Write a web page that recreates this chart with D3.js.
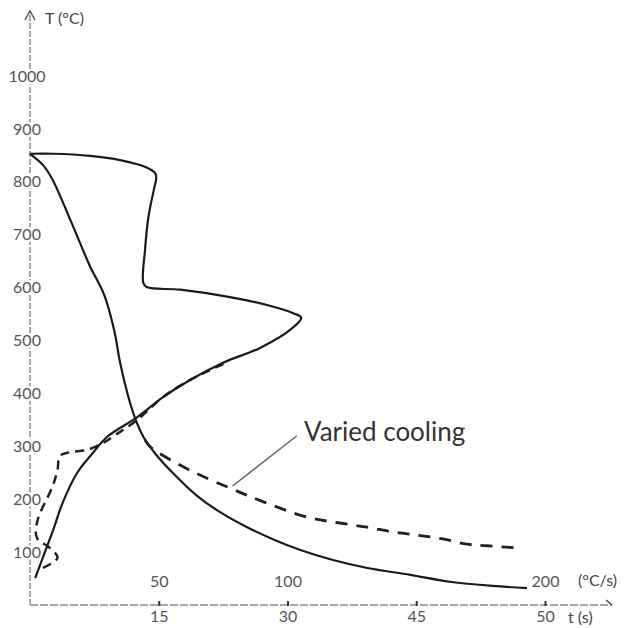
<!DOCTYPE html>
<html>
<head>
<meta charset="utf-8">
<script src="https://cdn.jsdelivr.net/npm/d3@7"></script>
<style>
  body { margin: 0; background: #fff; }
  svg { display: block; font-family: Lato, "Open Sans", sans-serif; }
</style>
</head>
<body>
<script>
// axis ticks
var yTicks = [100, 200, 300, 400, 500, 600, 700, 800, 900, 1000];
var tTickPos = [15, 30, 45, 60];
var tTickLabels = ['15', '30', '45', '50'];
var rateTickPos = [15, 30, 60];
var rateTickLabels = ['50', '100', '200'];

// fast cooling, T over t
var fastT = [0, 1.5, 2.6, 4.7, 7.0, 8.6, 9.8, 10.5, 11.4, 12.2, 13.2, 14.6, 16.5, 19.5, 22.1, 25.3, 28.5, 31.5, 35.3, 39.3, 44.3, 48.9, 53.9, 57.9];
var fastTemp = [853, 832, 805, 728, 640, 588, 520, 458, 397, 355, 318, 286, 252, 206, 176, 147, 123, 104, 85, 70, 57, 44, 36, 32];

// cooling rate curve (x in axis position units)
var rateX = [0, 2.7, 7.0, 10.5, 13.6, 14.6, 14.7, 14.5, 13.8, 13.4, 13.2, 13.6, 17.5, 23.3, 27.6, 30.6, 31.6, 30.3, 26.8, 22.5, 18.6, 15.5, 12.5, 9.0, 7.3, 5.5, 3.8, 2.7, 0.6];
var rateTemp = [853, 853, 849, 841, 827, 816, 805, 790, 734, 671, 609, 601, 596, 582, 567, 552, 543, 520, 486, 458, 425, 393, 355, 318, 287, 250, 193, 142, 51];

// varied cooling rate curve
var variedRateX = [1.5, 3.2, 2.3, 0.8, 0.9, 2.6, 3.2, 3.5, 4.7, 6.6, 8.5, 10.1, 12.5, 15.5, 18.6, 23.0];
var variedRateTemp = [70, 89, 108, 127, 161, 223, 255, 282, 289, 293, 306, 323, 350, 393, 425, 459];

// varied cooling, T over t after split
var variedT = [13.4, 14.0, 18.6, 23.3, 27.2, 32.3, 36.1, 39.3, 42.3, 45.1, 48.1, 50.9, 53.2, 56.7];
var variedTemp = [312, 299, 255, 221, 195, 166, 155, 147, 138, 132, 125, 115, 112, 108];

// annotation
var noteText = 'Varied cooling';
var noteFrom = [31.1, 320];
var noteTo = [23.6, 225];

const width = 630;
const height = 628;

const x = d3.scaleLinear().domain([0, 60]).range([30, 545]);
const y = d3.scaleLinear().domain([0, 1000]).range([605, 76]);

const svg = d3.select('body').append('svg')
    .attr('width', width)
    .attr('height', height);

// axis lines
svg.append('line')
    .attr('x1', x(0)).attr('y1', y(0))
    .attr('x2', x(0)).attr('y2', 12)
    .attr('stroke', '#8a8a8a').attr('stroke-width', 1.5)
    .attr('stroke-dasharray', '6,2');

svg.append('path')
    .attr('d', `M${x(0) - 5},${20} L${x(0)},${11} L${x(0) + 5},${20}`)
    .attr('fill', 'none').attr('stroke', '#555').attr('stroke-width', 1.5);

svg.append('line')
    .attr('x1', x(0)).attr('y1', y(0))
    .attr('x2', 612).attr('y2', y(0))
    .attr('stroke', '#8a8a8a').attr('stroke-width', 1.5)
    .attr('stroke-dasharray', '8,2');

svg.append('line')
    .attr('x1', 606).attr('y1', y(0) - 5)
    .attr('x2', 612).attr('y2', y(0))
    .attr('stroke', '#444').attr('stroke-width', 1.5);

// y axis labels
const yAxis = d3.axisLeft(y).tickValues(yTicks).tickSize(0).tickFormat(d3.format('d'));
const yG = svg.append('g')
    .attr('transform', `translate(${x(0)},0)`)
    .call(yAxis);
yG.select('.domain').remove();
yG.attr('font-family', null);
yG.selectAll('text')
    .attr('x', -3)
    .attr('text-anchor', 'middle')
    .attr('fill', '#555')
    .attr('font-size', 16)
    .attr('stroke', '#fff')
    .attr('stroke-width', 5)
    .attr('paint-order', 'stroke');

svg.append('text')
    .attr('x', 45).attr('y', 24)
    .attr('fill', '#444').attr('font-size', 16)
    .text('T (°C)');

// time axis
const tAxis = d3.axisBottom(x)
    .tickValues(tTickPos)
    .tickFormat(function (d, i) { return tTickLabels[i]; })
    .tickSize(0)
    .tickPadding(6);
const tG = svg.append('g')
    .attr('transform', `translate(0,${y(0)})`)
    .call(tAxis);
tG.select('.domain').remove();
tG.attr('font-family', null);
tG.selectAll('text').attr('fill', '#555').attr('font-size', 16);
tG.selectAll('.tick').append('line')
    .attr('y1', -4).attr('y2', 1)
    .attr('stroke', '#333').attr('stroke-width', 2);

svg.append('text')
    .attr('x', 568).attr('y', 623)
    .attr('fill', '#444').attr('font-size', 16)
    .text('t (s)');

// cooling rate axis
const rAxis = d3.axisTop(x)
    .tickValues(rateTickPos)
    .tickFormat(function (d, i) { return rateTickLabels[i]; })
    .tickSize(0)
    .tickPadding(18);
const rG = svg.append('g')
    .attr('transform', `translate(0,${y(0)})`)
    .call(rAxis);
rG.select('.domain').remove();
rG.attr('font-family', null);
rG.selectAll('text').attr('fill', '#555').attr('font-size', 16);

svg.append('text')
    .attr('x', 578).attr('y', 586)
    .attr('fill', '#444').attr('font-size', 16)
    .text('(°C/s)');

// curves
const line = d3.line()
    .x(function (d) { return x(d[0]); })
    .y(function (d) { return y(d[1]); })
    .curve(d3.curveCatmullRom.alpha(0.5));

function pairs(xs, ys) { return xs.map(function (v, i) { return [v, ys[i]]; }); }

svg.append('path')
    .attr('d', line(pairs(variedRateX, variedRateTemp)))
    .attr('fill', 'none').attr('stroke', '#222').attr('stroke-width', 2.5)
    .attr('stroke-dasharray', '9,6');

svg.append('path')
    .attr('d', line(pairs(fastT, fastTemp)))
    .attr('fill', 'none').attr('stroke', '#1a1a1a').attr('stroke-width', 2.2);

svg.append('path')
    .attr('d', line(pairs(rateX, rateTemp)))
    .attr('fill', 'none').attr('stroke', '#1a1a1a').attr('stroke-width', 2.2);

svg.append('path')
    .attr('d', line(pairs(variedT, variedTemp)))
    .attr('fill', 'none').attr('stroke', '#222').attr('stroke-width', 2.8)
    .attr('stroke-dasharray', '12,9');

// annotation
svg.append('line')
    .attr('x1', x(noteFrom[0])).attr('y1', y(noteFrom[1]))
    .attr('x2', x(noteTo[0])).attr('y2', y(noteTo[1]))
    .attr('stroke', '#666').attr('stroke-width', 1.5);

svg.append('text')
    .attr('x', x(noteFrom[0]) + 7).attr('y', y(noteFrom[1]) + 5)
    .attr('fill', '#333').attr('font-size', 26)
    .text(noteText);
</script>
</body>
</html>
